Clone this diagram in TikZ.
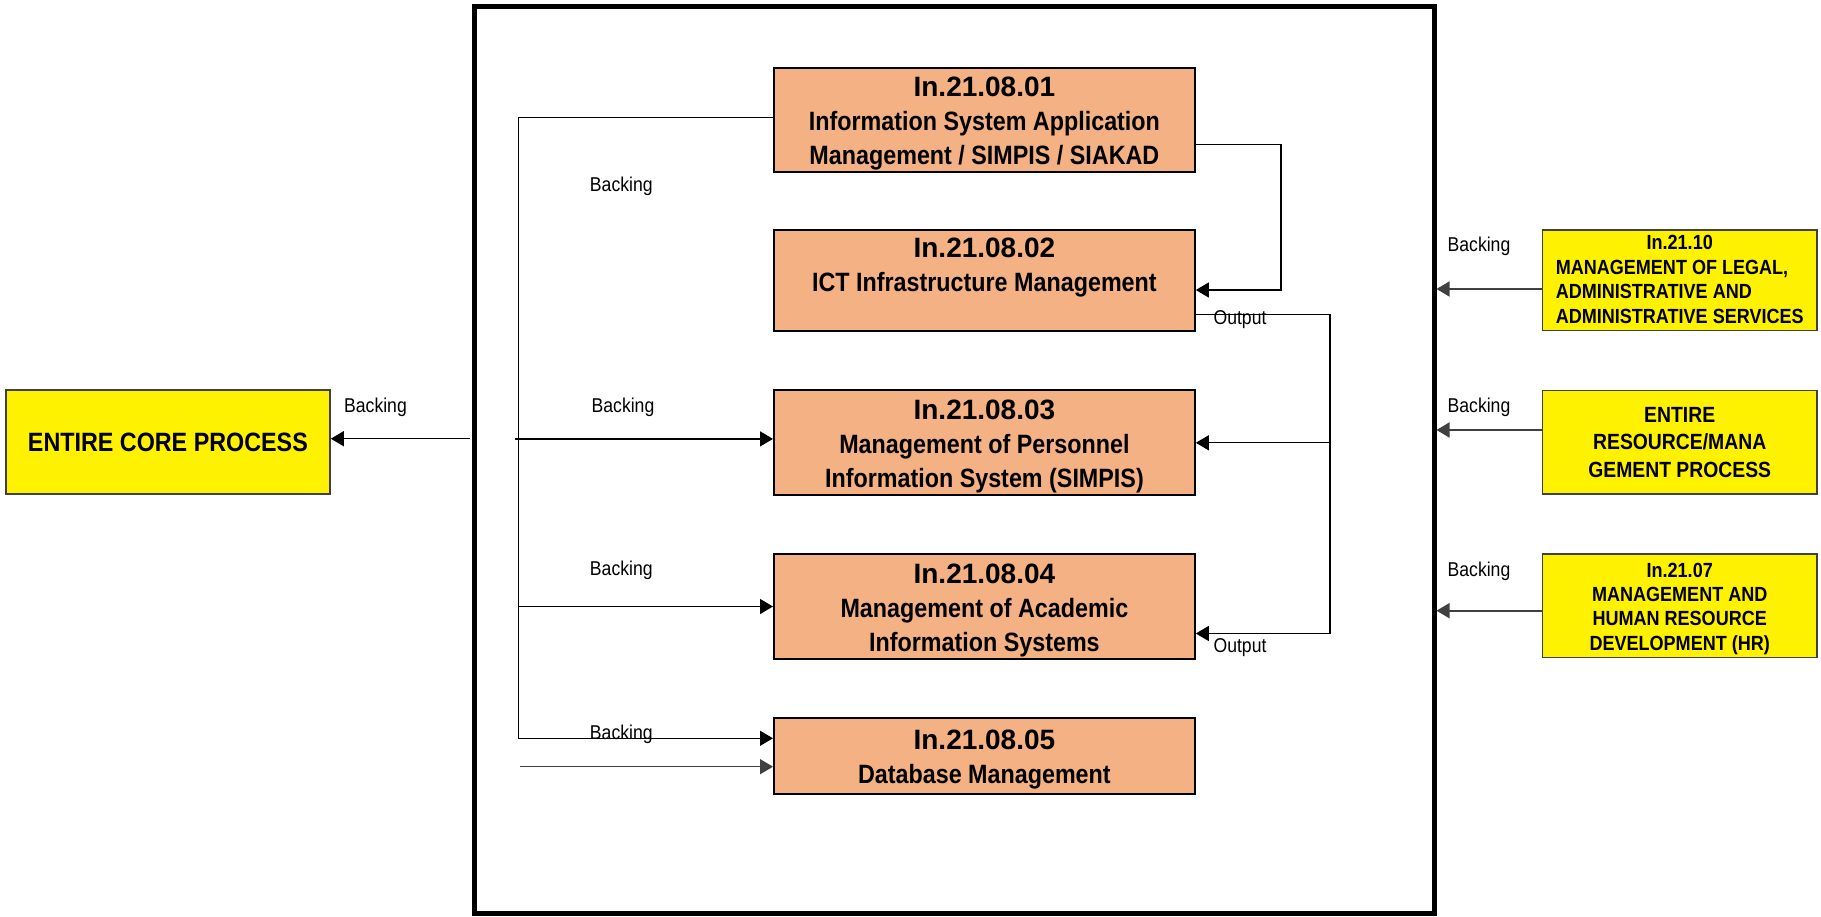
\documentclass[tikz,border=0pt]{standalone}
\usepackage{fontspec}
\setmainfont{Liberation Sans}
\newfontfamily\nfont{Liberation Sans}[FakeStretch=0.88]
\newfontfamily\wfont{Liberation Sans}
\usetikzlibrary{arrows.meta}
\definecolor{boxorange}{HTML}{F4B183}
\definecolor{edgegrey}{HTML}{404040}
% identifier line of a sub-process box, with a little headroom above it
\newcommand\boxid[1]{{\rule{0pt}{27pt}\wfont\bfseries\fontsize{28}{34}\selectfont #1}}
\newcommand\yhead{\rule{0pt}{20pt}}

\begin{document}
\begin{tikzpicture}[x=1pt,y=-1pt,
  conn/.style={line width=1.3pt, draw=black},
  rconn/.style={line width=1.6pt, draw=edgegrey},
  tip/.style={-{Triangle[length=13pt,width=15pt]}},
  obox/.style={draw=black, line width=2pt, fill=boxorange, minimum width=420.8pt,
    inner sep=0pt, align=center, font=\nfont\bfseries\fontsize{26.5}{34}\selectfont},
  ybox/.style={draw=edgegrey, line width=1.5pt, fill=yellow, inner sep=0pt,
    minimum width=274.7pt, align=center, font=\nfont\bfseries\fontsize{20.5}{24.4}\selectfont},
  lbl/.style={anchor=base, inner sep=0pt, font=\nfont\fontsize{20}{24}\selectfont},
]
\useasboundingbox (0,0) rectangle (1821,917);

% outer frame of the process group
\node[draw, line width=5pt, minimum width=960pt, minimum height=906.5pt, inner sep=0pt] (frame) at (954,459.75) {};

% sub-processes
\node[obox, minimum height=104pt] (b1) at (984.4,119.7)
  {\boxid{In.21.08.01}\\Information System Application\\Management / SIMPIS / SIAKAD};
\node[obox, minimum height=100.7pt] (b2) at (984.4,280.7)
  {\boxid{In.21.08.02}\\ICT Infrastructure Management\rule[-40pt]{0pt}{0pt}};
\node[obox, minimum height=104.8pt] (b3) at (984.4,442.6)
  {\boxid{In.21.08.03}\\Management of Personnel\\Information System (SIMPIS)};
\node[obox, minimum height=104.8pt] (b4) at (984.4,606.7)
  {\boxid{In.21.08.04}\\Management of Academic\\Information Systems};
\node[obox, minimum height=76pt] (b5) at (984.4,756)
  {\boxid{In.21.08.05}\\Database Management};

% related processes
\node[ybox, minimum height=99pt] (ya) at (1679.7,280.2)
  {\begin{tabular}{@{}l@{}}\multicolumn{1}{@{}c@{}}{\yhead In.21.10}\\MANAGEMENT OF LEGAL,\\ADMINISTRATIVE AND\\ADMINISTRATIVE SERVICES\end{tabular}};
\node[ybox, minimum height=103.7pt, font=\nfont\bfseries\fontsize{22}{27.5}\selectfont] (yb) at (1679.7,442.2)
  {ENTIRE\\RESOURCE/MANA\\GEMENT PROCESS};
\node[ybox, minimum height=103.7pt] (yc) at (1679.7,605.8)
  {\yhead In.21.07\\MANAGEMENT AND\\HUMAN RESOURCE\\DEVELOPMENT (HR)};
\node[ybox, minimum width=324.3pt, minimum height=104pt, font=\nfont\bfseries\fontsize{26.5}{32}\selectfont] (core) at (167.9,442)
  {ENTIRE CORE PROCESS};

% junction points
\coordinate (j5) at (518.6,738.3);
\coordinate (j4) at (518.6,606.5);
\coordinate (s3) at (514.5,438.9);
\coordinate (s5) at (520.3,766.7);
\coordinate (sc) at (470,438.7);
\coordinate (r1) at (1281,290);
\coordinate (r2) at (1330,633.5);
\coordinate (r3) at (1330,442.8);
\coordinate (fa) at (1436.5,289);
\coordinate (fb) at (1436.5,430);
\coordinate (fc) at (1436.5,610.7);

% left-hand backing lines
\draw[conn,tip] ([yshift=2pt]b1.west) -| (j5) -- (j5 -| b5.west);
\draw[conn,tip] (j4) -- (j4 -| b4.west);
\draw[conn,tip] (s3) -- (s3 -| b3.west);
\draw[conn,tip,draw=edgegrey] (s5) -- (s5 -| b5.west);
\draw[conn,tip] (sc) -- (sc -| core.east);

% right-hand outputs
\draw[conn,tip] ([yshift=-25pt]b1.east) -| (r1) -- (r1 -| b2.east);
\draw[conn,tip] ([yshift=-33.6pt]b2.east) -| (r2) -- (r2 -| b4.east);
\draw[conn,tip] (r3) -- (r3 -| b3.east);

% incoming support from related processes
\draw[rconn,tip] (fa -| ya.west) -- (fa);
\draw[rconn,tip] (fb -| yb.west) -- (fb);
\draw[rconn,tip] (fc -| yc.west) -- (fc);

% labels
\node[lbl] (l0) at (375.5,412.7) {Backing};
\node[lbl] (l1) at (621.3,192) {Backing};
\node[lbl] (l2) at (623,412.5) {Backing};
\node[lbl] (l3) at (621.3,575.5) {Backing};
\node[lbl] (l4) at (621.3,739.3) {Backing};
\node[lbl] (o1) at (1240,325) {Output};
\node[lbl] (o2) at (1240,652) {Output};
\node[lbl] (l5) at (1479,251.3) {Backing};
\node[lbl] (l6) at (1479,412.7) {Backing};
\node[lbl] (l7) at (1479,576.3) {Backing};
\end{tikzpicture}
\end{document}
